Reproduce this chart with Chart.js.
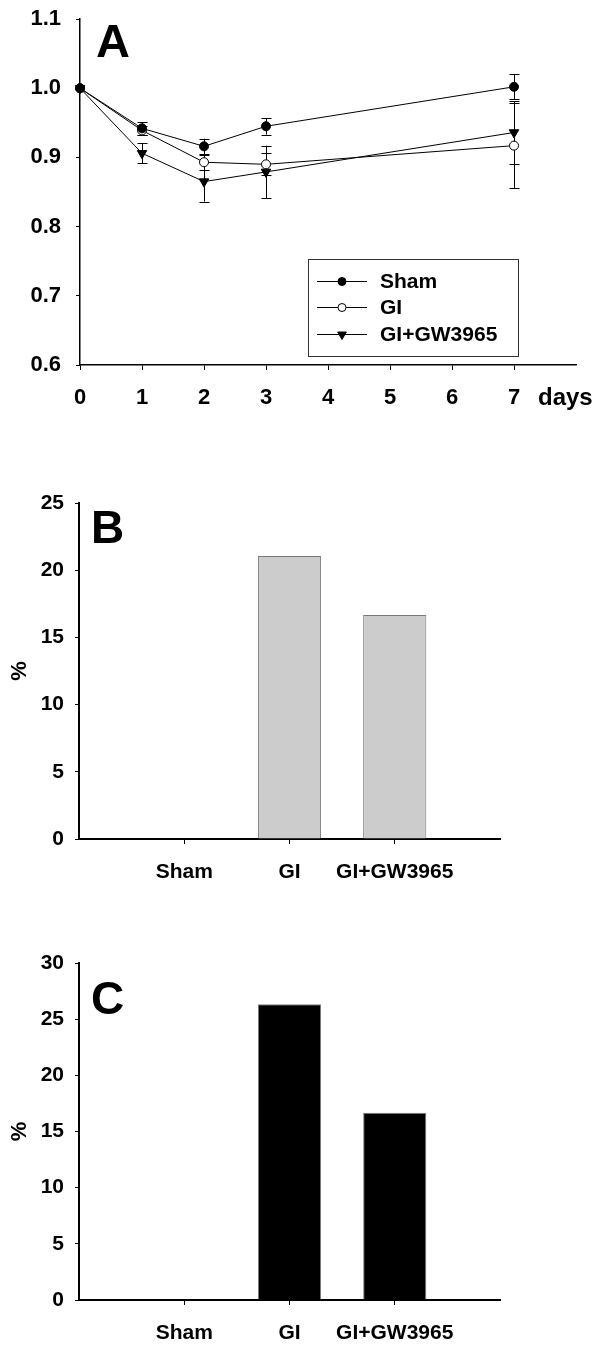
<!DOCTYPE html>
<html><head><meta charset="utf-8">
<script src="https://cdn.jsdelivr.net/npm/chart.js@4.4.0/dist/chart.umd.min.js"></script>
<style>
html,body{margin:0;padding:0;background:#fff;}
body{width:600px;height:1345px;position:relative;overflow:hidden;}
canvas{position:absolute;left:0;}
</style></head><body>
<canvas id="cA" width="600" height="420" style="top:0px"></canvas>
<canvas id="cB" width="600" height="450" style="top:440px"></canvas>
<canvas id="cC" width="600" height="445" style="top:900px"></canvas>
<script>
// ---------- data ----------
const days = [0, 1, 2, 3, 7];
const dayTicks = [0, 1, 2, 3, 4, 5, 6, 7];
const seriesNames = ['Sham', 'GI', 'GI+GW3965'];
const shamMean = [1.000, 0.942, 0.916, 0.945, 1.002];
const shamErr  = [0, 0.009, 0.011, 0.012, 0.018];
const giMean   = [1.000, 0.939, 0.893, 0.890, 0.917];
const giErr    = [0, 0.007, 0.011, 0.016, 0.061];
const gwMean   = [1.000, 0.906, 0.865, 0.879, 0.936];
const gwErr    = [0, 0.0145, 0.029, 0.038, 0.045];
const yTicksA  = [0.6, 0.7, 0.8, 0.9, 1.0, 1.1];

const groups  = ['Sham', 'GI', 'GI+GW3965'];
const groupPos = [1, 2, 3];
const pctB = [0, 21.05, 16.67];
const pctC = [0, 26.32, 16.67];
const yTicksB = [0, 5, 10, 15, 20, 25];
const yTicksC = [0, 5, 10, 15, 20, 25, 30];

// ---------- defaults ----------
const FONT = "'Liberation Sans', Arial, Helvetica, sans-serif";
Chart.defaults.font.family = FONT;
Chart.defaults.font.weight = 'bold';
Chart.defaults.color = '#000';
Chart.defaults.animation = false;

function setTicks(vals){ return (scale) => { scale.ticks = vals.map(v => ({value: v})); }; }
function fixY(w){ return (s) => { s.width = w; s.paddingTop = 0; s.paddingBottom = 0; }; }

// ---------- plugins ----------
const errorBars = {
  id: 'errorBars',
  beforeDatasetsDraw(chart, args, opts) {
    if (!opts.errors) return;
    const {ctx, scales: {x, y}} = chart;
    ctx.save();
    ctx.strokeStyle = '#000';
    ctx.lineWidth = 1;
    chart.data.datasets.forEach((ds, i) => {
      const errs = opts.errors[i];
      ds.data.forEach((pt, j) => {
        const e = errs[j];
        if (!e) return;
        const px = Math.round(x.getPixelForValue(pt.x)) + 0.5;
        const yt = y.getPixelForValue(pt.y + e);
        const yb = y.getPixelForValue(pt.y - e);
        ctx.beginPath();
        ctx.moveTo(px, yt); ctx.lineTo(px, yb);
        ctx.moveTo(px - 5, Math.round(yt) + 0.5); ctx.lineTo(px + 5, Math.round(yt) + 0.5);
        ctx.moveTo(px - 5, Math.round(yb) + 0.5); ctx.lineTo(px + 5, Math.round(yb) + 0.5);
        ctx.stroke();
      });
    });
    ctx.restore();
  }
};

const annot = {
  id: 'annot',
  afterDraw(chart, args, opts) {
    const ctx = chart.ctx;
    ctx.save();
    ctx.fillStyle = '#000';
    (opts.texts || []).forEach(t => {
      ctx.font = 'bold ' + t.size + 'px ' + FONT;
      ctx.textAlign = t.align || 'left';
      ctx.textBaseline = 'alphabetic';
      ctx.fillText(t.text, t.x, t.y);
    });
    if (opts.legend) {
      const L = opts.legend;
      ctx.strokeStyle = '#333';
      ctx.lineWidth = 1;
      ctx.strokeRect(L.x + 0.5, L.y + 0.5, L.w, L.h);
      chart.data.datasets.forEach((ds, i) => {
        const ry = L.rowY[i];
        ctx.strokeStyle = '#000';
        ctx.beginPath();
        ctx.moveTo(L.x + 9, ry + 0.5); ctx.lineTo(L.x + 59, ry + 0.5);
        ctx.stroke();
        ctx.fillStyle = ds.pointBackgroundColor;
        ctx.strokeStyle = '#000';
        ctx.lineWidth = 1;
        Chart.helpers.drawPoint(ctx, {pointStyle: ds.pointStyle, radius: ds.pointRadius - 0.5, rotation: ds.pointRotation || 0, borderWidth: 1}, L.x + 34, ry + 0.5);
        ctx.fillStyle = '#000';
        ctx.font = 'bold 21px ' + FONT;
        ctx.textAlign = 'left';
        ctx.textBaseline = 'middle';
        ctx.fillText(ds.label, L.x + 72, ry + 1);
      });
    }
    ctx.restore();
  }
};

// ---------- Panel A ----------
function mk(means) { return means.map((v, j) => ({x: days[j], y: v})); }
new Chart(document.getElementById('cA'), {
  type: 'line',
  data: {
    datasets: [
      {label: seriesNames[0], data: mk(shamMean), borderColor: '#000', borderWidth: 1,
       pointStyle: 'circle', pointRadius: 4.5, pointBackgroundColor: '#000', pointBorderColor: '#000', pointBorderWidth: 1, clip: false},
      {label: seriesNames[1], data: mk(giMean), borderColor: '#000', borderWidth: 1,
       pointStyle: 'circle', pointRadius: 4.5, pointBackgroundColor: '#fff', pointBorderColor: '#000', pointBorderWidth: 1, clip: false},
      {label: seriesNames[2], data: mk(gwMean), borderColor: '#000', borderWidth: 1,
       pointStyle: 'triangle', pointRotation: 180, pointRadius: 5.5, pointBackgroundColor: '#000', pointBorderColor: '#000', pointBorderWidth: 1, clip: false}
    ]
  },
  options: {
    responsive: false,
    layout: {padding: {top: 19, right: 24, left: 0, bottom: 0}, autoPadding: false},
    plugins: {
      legend: {display: false}, tooltip: {enabled: false},
      errorBars: {errors: [shamErr, giErr, gwErr]},
      annot: {
        texts: [
          {text: 'A', x: 96, y: 57, size: 47},
          {text: 'days', x: 538, y: 405, size: 24}
        ],
        legend: {x: 308, y: 259, w: 210, h: 97, rowY: [281, 307, 334]}
      }
    },
    scales: {
      x: {
        type: 'linear', min: 0, max: 8,
        afterBuildTicks: setTicks(dayTicks),
        afterFit: (s) => { s.height = 55; s.paddingLeft = 0; s.paddingRight = 0; },
        grid: {display: true, drawOnChartArea: false, drawTicks: true, tickLength: 5, color: '#000', lineWidth: 1},
        border: {display: true, color: '#000', width: 1.5},
        ticks: {font: {size: 22, weight: 'bold'}, padding: 15, color: '#000', maxRotation: 0,
                callback: (v) => String(v)}
      },
      y: {
        type: 'linear', min: 0.6, max: 1.1,
        afterBuildTicks: setTicks(yTicksA),
        afterFit: fixY(80),
        grid: {display: true, drawOnChartArea: false, drawTicks: true, tickLength: 4, color: '#000', lineWidth: 1},
        border: {display: true, color: '#000', width: 1.5},
        ticks: {font: {size: 22, weight: 'bold'}, padding: 15, color: '#000',
                callback: (v) => Number(v).toFixed(1)}
      }
    }
  },
  plugins: [errorBars, annot]
});

// ---------- Panels B and C ----------
function barChart(id, values, yTicks, ymax, fill, letter, letterY, xAxisH) {
  return new Chart(document.getElementById(id), {
    type: 'bar',
    data: {
      datasets: [{
        data: values.map((v, i) => ({x: groupPos[i], y: v})),
        backgroundColor: fill, borderColor: '#7a7a7a', borderWidth: 1,
        barPercentage: 0.75, categoryPercentage: 0.8
      }]
    },
    options: {
      responsive: false,
      layout: {padding: {top: 63, right: 100, left: 0, bottom: 0}, autoPadding: false},
      plugins: {
        legend: {display: false}, tooltip: {enabled: false},
        annot: {texts: [{text: letter, x: 91, y: letterY, size: 46}]}
      },
      scales: {
        x: {
          type: 'linear', min: 0, max: 4, offset: false,
          afterBuildTicks: setTicks(groupPos),
          afterFit: (s) => { s.height = xAxisH; },
          grid: {display: true, offset: false, drawOnChartArea: false, drawTicks: true, tickLength: 5, color: '#000', lineWidth: 1},
          border: {display: true, color: '#000', width: 2},
          ticks: {font: {size: 21, weight: 'bold'}, padding: 16, color: '#000', maxRotation: 0,
                  callback: (v) => groups[groupPos.indexOf(v)] || ''}
        },
        y: {
          type: 'linear', min: 0, max: ymax,
          afterBuildTicks: setTicks(yTicks),
          afterFit: fixY(79),
          title: {display: true, text: '%', font: {size: 22, weight: 'bold'}, padding: {top: 7, bottom: 0}, color: '#000'},
          grid: {display: true, drawOnChartArea: false, drawTicks: true, tickLength: 4, color: '#000', lineWidth: 1},
          border: {display: true, color: '#000', width: 2},
          ticks: {font: {size: 21, weight: 'bold'}, padding: 11, color: '#000',
                  callback: (v) => String(v)}
        }
      }
    },
    plugins: [annot]
  });
}
barChart('cB', pctB, yTicksB, 25, '#cccccc', 'B', 103, 51);
barChart('cC', pctC, yTicksC, 30, '#000000', 'C', 114, 45);
</script>
</body></html>
